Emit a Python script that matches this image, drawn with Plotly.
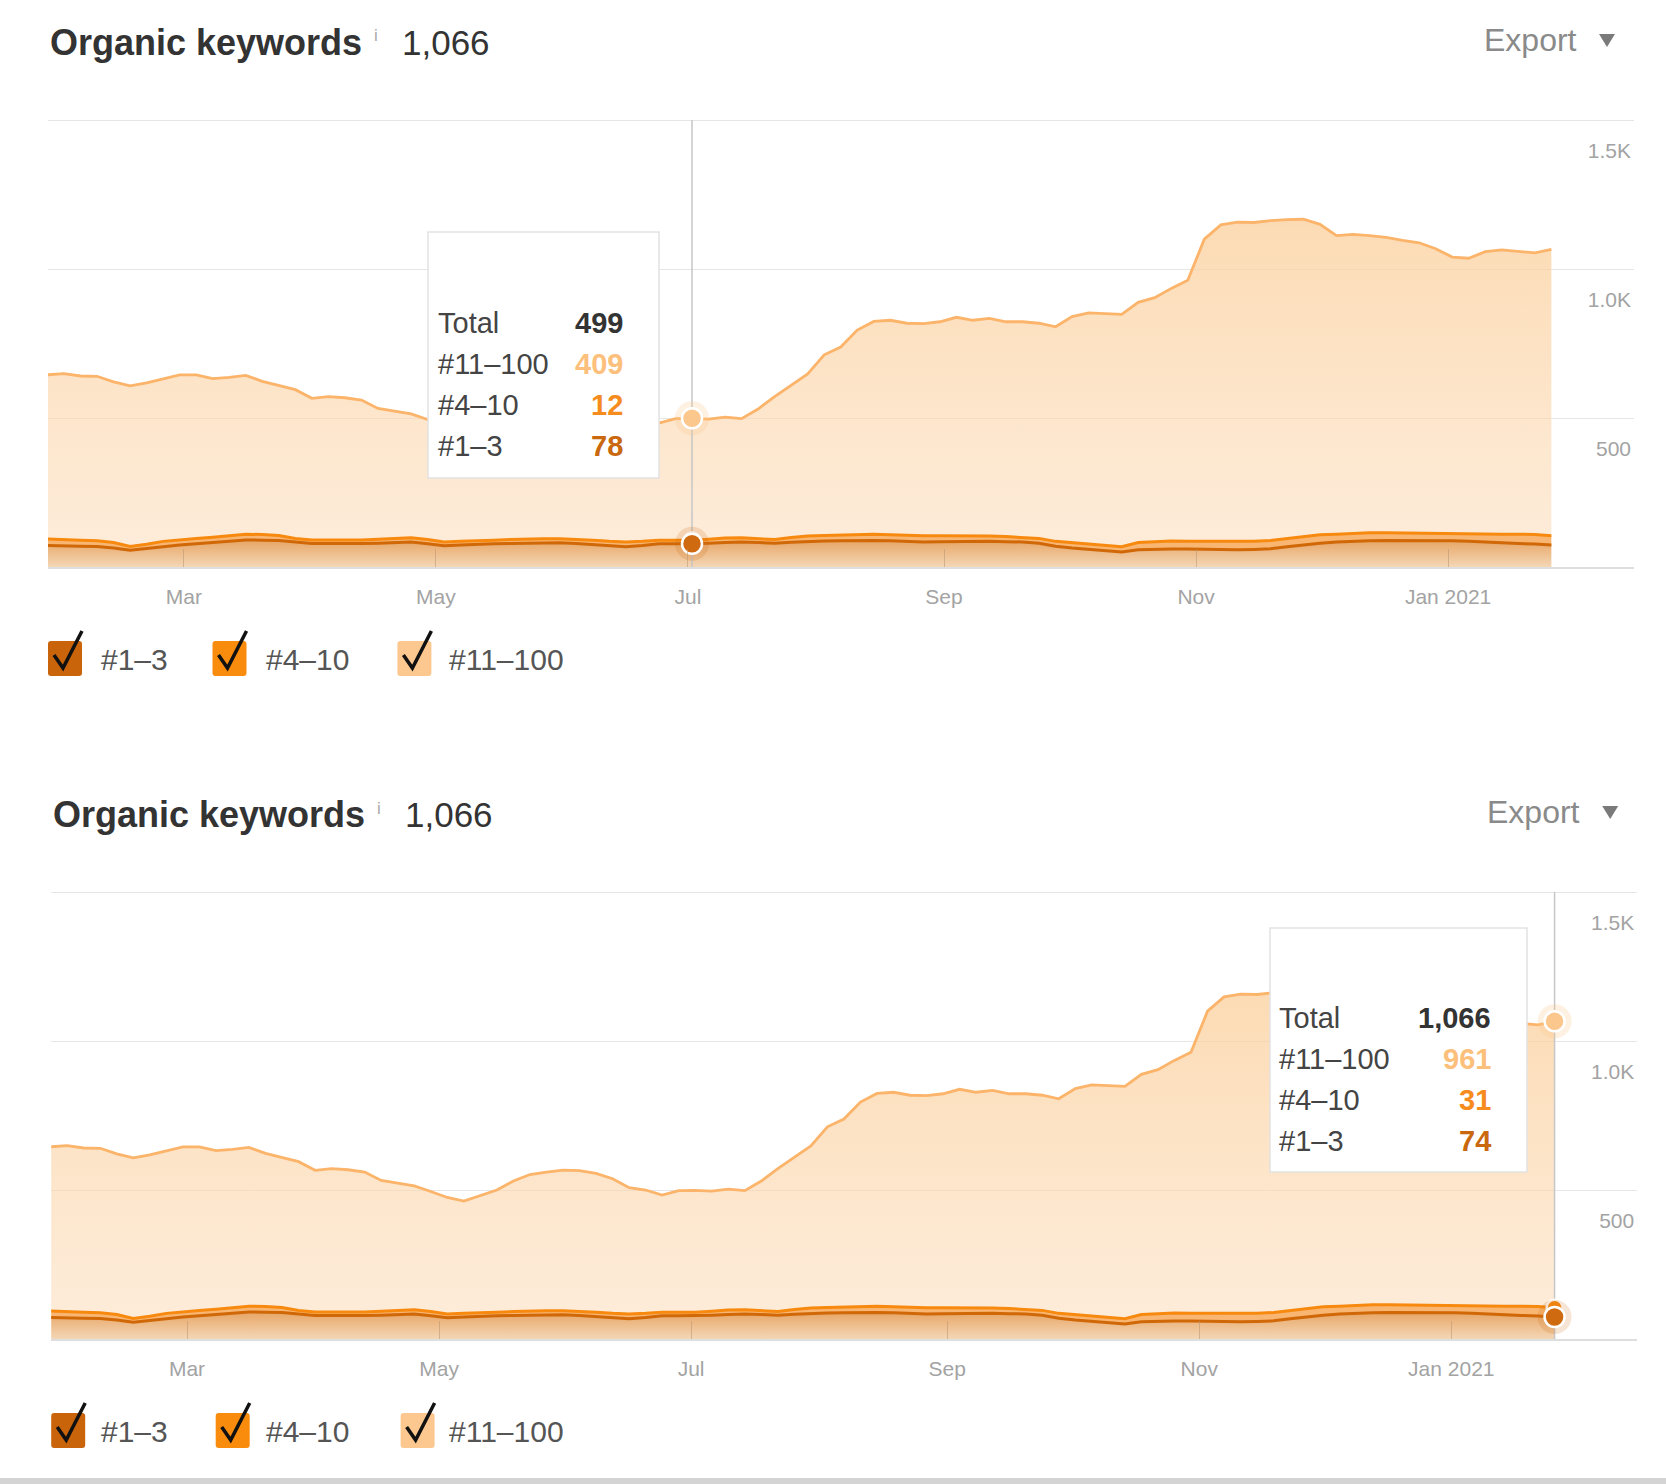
import pandas as pd
import plotly.graph_objects as go

W, H = 1666, 1484
FONT = "Liberation Sans, Arial, sans-serif"

# ---------------- data ----------------
dates = pd.date_range("2020-01-28", periods=92, freq="4D")

r1_3 = [72, 72, 70, 69, 64, 56, 62, 70, 74, 78,
        82, 86, 91, 90, 89, 84, 79, 79, 78, 79,
        80, 82, 84, 78, 71, 74, 77, 78, 79, 80,
        81, 81, 79, 76, 72, 68, 72, 78, 78, 78,
        80, 82, 84, 82, 80, 83, 86, 87, 88, 89,
        89, 88, 86, 84, 85, 86, 86, 86, 85, 84,
        80, 70, 64, 60, 54, 50, 58, 60, 60, 60,
        59, 58, 58, 59, 61, 68, 75, 80, 84, 87,
        88, 89, 89, 89, 89, 88, 86, 83, 81, 79,
        77, 74]

r4_10 = [22, 21, 20, 19, 18, 13, 14, 16, 18, 18,
         18, 18, 19, 19, 17, 12, 12, 12, 12, 12,
         13, 13, 14, 14, 13, 12, 12, 12, 13, 14,
         14, 14, 14, 14, 14, 16, 14, 12, 12, 12,
         13, 15, 14, 14, 12, 16, 18, 19, 20, 21,
         21, 20, 20, 21, 20, 19, 19, 18, 17, 16,
         16, 16, 17, 18, 18, 18, 24, 25, 27, 26,
         27, 27, 26, 27, 28, 28, 27, 28, 26, 26,
         27, 26, 25, 24, 24, 24, 26, 27, 29, 31,
         32, 31]

r11_100 = [551, 556, 551, 552, 539, 539, 542, 546, 553, 549,
           532, 532, 533, 514, 504, 499, 475, 481, 478, 469,
           439, 427, 416, 403, 391, 377, 392, 410, 438, 458,
           465, 472, 472, 466, 452, 424, 414, 393, 408, 409,
           403, 406, 400, 434, 480, 511, 544, 606, 630, 685,
           714, 720, 712, 712, 718, 733, 723, 730, 721, 723,
           722, 720, 759, 775, 779, 780, 806, 819, 848, 876,
           1014, 1063, 1073, 1070, 1073, 1070, 1065, 1042, 1002, 1003,
           997, 991, 982, 975, 955, 928, 924, 948, 954, 950,
           945, 961]

series_names = ["#1\u20133", "#4\u201310", "#11\u2013100"]
tick_dates = ["2020-03-01", "2020-05-01", "2020-07-01", "2020-09-01", "2020-11-01", "2021-01-01"]
tick_text = ["Mar", "May", "Jul", "Sep", "Nov", "Jan 2021"]
y_ticks = [500, 1000, 1500]
y_text = ["500", "1.0K", "1.5K"]

# ---------------- styling ----------------
C13_LINE, C410_LINE, C11_LINE = "#d06808", "#f7890f", "#fbb46a"
BOX_COLORS = ["#c9640a", "#f98b0d", "#fdc890"]
VAL_COLORS = ["#c9680e", "#f68b1e", "#fcbf7c"]


def px(x):
    return x / W


def py(y):
    return 1 - y / H


def fmt(v):
    return f"{v:,}"


total = [a + b + c for a, b, c in zip(r1_3, r4_10, r11_100)]
cum2 = [a + b for a, b in zip(r1_3, r4_10)]

charts = [
    dict(sfx="", dx=0.0, dy=0.0, hover=39,
         box=(428, 232, 659, 478), lab_x=436, val_x=625, rows=[323, 364, 405, 446]),
    dict(sfx="2", dx=3.2, dy=772.0, hover=91,
         box=(1270, 928, 1527, 1172), lab_x=1277, val_x=1493, rows=[1018, 1059, 1100, 1141]),
]

YMAX = 1510
fig = go.Figure()
shapes, annots = [], []
layout_axes = {}

for ch in charts:
    sfx, dx, dy, hi = ch["sfx"], ch["dx"], ch["dy"], ch["hover"]
    xa, ya = "x" + sfx, "y" + sfx
    grp = "g" + (sfx or "1")

    fig.add_trace(go.Scatter(
        x=dates, y=r1_3, name=series_names[0], stackgroup=grp, xaxis=xa, yaxis=ya,
        mode="lines", line=dict(color=C13_LINE, width=3),
        fillgradient=dict(type="vertical", start=0, stop=100,
                          colorscale=[[0, "#f4d7b6"], [1, "#e6a05c"]]),
        showlegend=False, hoverinfo="skip"))
    fig.add_trace(go.Scatter(
        x=dates, y=r4_10, name=series_names[1], stackgroup=grp, xaxis=xa, yaxis=ya,
        mode="lines", line=dict(color=C410_LINE, width=3), fillcolor="#f9b672",
        showlegend=False, hoverinfo="skip"))
    fig.add_trace(go.Scatter(
        x=dates, y=r11_100, name=series_names[2], stackgroup=grp, xaxis=xa, yaxis=ya,
        mode="lines", line=dict(color=C11_LINE, width=2.8),
        fillgradient=dict(type="vertical", start=0, stop=1250,
                          colorscale=[[0, "rgba(252,222,190,0.55)"],
                                      [1, "rgba(251,205,150,0.75)"]]),
        showlegend=False, hoverinfo="skip"))

    # crosshair at the hovered date
    hd = dates[hi]
    fig.add_trace(go.Scatter(x=[hd, hd], y=[0, 1500], xaxis=xa, yaxis=ya, mode="lines",
                             line=dict(color="#c6c6c6", width=1.5), showlegend=False,
                             hoverinfo="skip"))
    # hover markers (halo + dot)
    for yv, col, halo, sz in [(cum2[hi], C410_LINE, "rgba(247,137,15,0.0)", 16),
                              (r1_3[hi], "#cf6a10", "rgba(207,106,16,0.18)", 20),
                              (total[hi], "#fcc78c", "rgba(252,199,140,0.25)", 20)]:
        fig.add_trace(go.Scatter(x=[hd], y=[yv], xaxis=xa, yaxis=ya, mode="markers",
                                 marker=dict(size=34, color=halo, line=dict(width=0)),
                                 showlegend=False, hoverinfo="skip"))
        fig.add_trace(go.Scatter(x=[hd], y=[yv], xaxis=xa, yaxis=ya, mode="markers",
                                 marker=dict(size=sz, color=col, line=dict(color="white", width=2.5)),
                                 showlegend=False, hoverinfo="skip"))

    # axes (1500 gridline at y=120 px, baseline at 567 px)
    bot = 567 + dy
    top = bot - (567 - 120) * YMAX / 1500
    left, right = 48 + dx, 1634 + dx
    layout_axes["xaxis" + sfx] = dict(
        domain=[px(left), px(right)], anchor=ya, type="date",
        range=["2020-01-28 03:00", "2021-02-15 00:00"],
        tickvals=tick_dates, ticktext=tick_text,
        ticks="inside", ticklen=18, tickwidth=1, tickcolor="rgba(185,150,115,0.55)",
        showgrid=False, zeroline=False, showline=True, linecolor="#dedede", linewidth=1.5,
        tickfont=dict(family=FONT, size=21, color="#a3a3a3"), ticklabelstandoff=10,
        fixedrange=True)
    layout_axes["yaxis" + sfx] = dict(
        domain=[py(bot), py(top)], anchor=xa, range=[0, YMAX], side="right",
        tickvals=y_ticks, ticktext=y_text, ticklabelposition="inside", ticklabelshift=31,
        ticks="", showgrid=True, gridcolor="#e6e6e6", gridwidth=1.3, zeroline=False,
        showline=False, tickfont=dict(family=FONT, size=21, color="#a3a3a3"),
        fixedrange=True)

    # header
    annots.append(dict(x=px(48 + dx), y=py(42.5 + dy), xref="paper", yref="paper",
                       text="<b>Organic keywords</b>", showarrow=False, xanchor="left",
                       yanchor="middle", font=dict(family=FONT, size=36, color="#333333")))
    annots.append(dict(x=px(372 + dx), y=py(36 + dy), xref="paper", yref="paper",
                       text="i", showarrow=False, xanchor="left", yanchor="middle",
                       font=dict(family=FONT, size=17, color="#aaaaaa")))
    annots.append(dict(x=px(400 + dx), y=py(42.5 + dy), xref="paper", yref="paper",
                       text=fmt(total[-1]), showarrow=False, xanchor="left", yanchor="middle",
                       font=dict(family=FONT, size=35, color="#333333")))
    annots.append(dict(x=px(1482 + dx), y=py(40 + dy), xref="paper", yref="paper",
                       text="Export", showarrow=False, xanchor="left", yanchor="middle",
                       font=dict(family=FONT, size=32, color="#8a8a8a")))
    tx0, ty0 = 1599 + dx, 34 + dy
    shapes.append(dict(type="path", xref="paper", yref="paper", layer="above",
                       path=f"M {px(tx0)},{py(ty0)} L {px(tx0 + 16)},{py(ty0)} L {px(tx0 + 8)},{py(ty0 + 13)} Z",
                       fillcolor="#7a7a7a", line=dict(width=0)))

    # tooltip box
    bx0, by0, bx1, by1 = ch["box"]
    shapes.append(dict(type="rect", xref="paper", yref="paper", layer="above",
                       x0=px(bx0), x1=px(bx1), y0=py(by1), y1=py(by0),
                       fillcolor="white", line=dict(color="#e2e2e2", width=1.5)))
    rows = [("Total", fmt(total[hi]), "#333333"),
            (series_names[2], fmt(r11_100[hi]), VAL_COLORS[2]),
            (series_names[1], fmt(r4_10[hi]), VAL_COLORS[1]),
            (series_names[0], fmt(r1_3[hi]), VAL_COLORS[0])]
    for (lab, val, col), ry in zip(rows, ch["rows"]):
        annots.append(dict(x=px(ch["lab_x"]), y=py(ry), xref="paper", yref="paper",
                           text=lab, showarrow=False, xanchor="left", yanchor="middle",
                           font=dict(family=FONT, size=29, color="#444444")))
        annots.append(dict(x=px(ch["val_x"]), y=py(ry), xref="paper", yref="paper",
                           text=f"<b>{val}</b>", showarrow=False, xanchor="right", yanchor="middle",
                           font=dict(family=FONT, size=29, color=col)))

    # checkbox legend
    box_x = [48, 212.5, 397.4]
    lab_x = [98.8, 263.5, 447.3]
    for bxx, lx, col, name in zip(box_x, lab_x, BOX_COLORS, series_names):
        x0, x1 = bxx + dx, bxx + 34 + dx
        y0, y1 = 641 + dy, 676 + dy
        r = 3
        path = (f"M {px(x0 + r)},{py(y0)} L {px(x1 - r)},{py(y0)} Q {px(x1)},{py(y0)} {px(x1)},{py(y0 + r)} "
                f"L {px(x1)},{py(y1 - r)} Q {px(x1)},{py(y1)} {px(x1 - r)},{py(y1)} "
                f"L {px(x0 + r)},{py(y1)} Q {px(x0)},{py(y1)} {px(x0)},{py(y1 - r)} "
                f"L {px(x0)},{py(y0 + r)} Q {px(x0)},{py(y0)} {px(x0 + r)},{py(y0)} Z")
        shapes.append(dict(type="path", xref="paper", yref="paper", path=path,
                           fillcolor=col, line=dict(width=0), layer="above"))
        chk = (f"M {px(x0 + 6)},{py(y0 + 14)} L {px(x0 + 15)},{py(y0 + 27)} "
               f"L {px(x0 + 34)},{py(y0 - 10)}")
        shapes.append(dict(type="path", xref="paper", yref="paper", path=chk,
                           line=dict(color="#111111", width=3.5), layer="above"))
        annots.append(dict(x=px(lx), y=py(659 + dy), xref="paper", yref="paper",
                           text=name, showarrow=False, xanchor="left", yanchor="middle",
                           font=dict(family=FONT, size=30, color="#555555")))

# bottom window edge
shapes.append(dict(type="rect", xref="paper", yref="paper", x0=0, x1=1, y0=0, y1=py(1478),
                   fillcolor="#d4d4d4", line=dict(width=0), layer="above"))

fig.update_layout(
    width=W, height=H, margin=dict(l=0, r=0, t=0, b=0),
    paper_bgcolor="white", plot_bgcolor="white",
    showlegend=False, hovermode=False,
    shapes=shapes, annotations=annots,
    font=dict(family=FONT),
    **layout_axes)

fig.write_html("out.html", config={"displayModeBar": False})
